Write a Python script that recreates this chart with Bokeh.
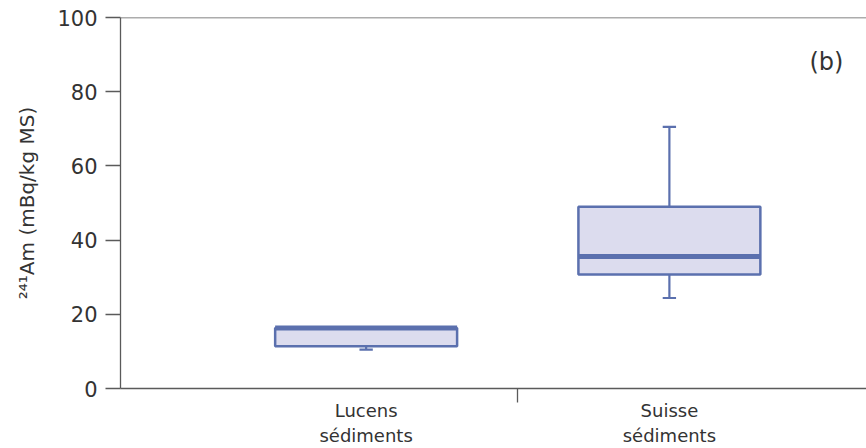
from bokeh.plotting import figure
from bokeh.models import Range1d, FixedTicker, Span, Label
from bokeh.embed import file_html
from bokeh.resources import INLINE

# Data
categories = ["Lucens\nsédiments", "Suisse\nsédiments"]
positions = [1, 2]
lower = [10.5, 24.4]
q1 = [11.4, 30.7]
median = [16.3, 35.6]
q3 = [16.3, 49.0]
upper = [16.3, 70.5]
y_ticks = [0, 20, 40, 60, 80, 100]

box_w = 0.6
cap_w = 0.044
FONT = "DejaVu Sans"
EDGE = "#5b70ae"
FILL = "#dcdcee"
AXIS = "#5a5a5a"
TEXT = "#333333"

p = figure(width=866, height=448, output_backend="svg", toolbar_location=None,
           x_range=Range1d(0.19, 2.65), y_range=Range1d(0, 100),
           min_border_left=120, min_border_right=0, min_border_top=17, min_border_bottom=58)
p.outline_line_color = None
p.xgrid.visible = False
p.ygrid.visible = False
p.background_fill_color = "white"
p.border_fill_color = "white"

# boxes
p.vbar(x=positions, bottom=q1, top=q3, width=box_w, fill_color=FILL,
       line_color=EDGE, line_width=2.5)
# whiskers
p.segment(x0=positions, y0=q3, x1=positions, y1=upper, line_color=EDGE, line_width=2.2)
p.segment(x0=positions, y0=lower, x1=positions, y1=q1, line_color=EDGE, line_width=2.2)
# caps
p.segment(x0=[x - cap_w / 2 for x in positions], y0=upper,
          x1=[x + cap_w / 2 for x in positions], y1=upper, line_color=EDGE, line_width=2.2)
p.segment(x0=[x - cap_w / 2 for x in positions], y0=lower,
          x1=[x + cap_w / 2 for x in positions], y1=lower, line_color=EDGE, line_width=2.2)
# medians
p.segment(x0=[x - box_w / 2 for x in positions], y0=median,
          x1=[x + box_w / 2 for x in positions], y1=median, line_color=EDGE, line_width=5)

# y axis
p.yaxis.ticker = FixedTicker(ticks=y_ticks)
p.yaxis.major_tick_out = 15
p.yaxis.major_tick_in = 0
p.yaxis.minor_tick_line_color = None
p.yaxis.axis_line_color = AXIS
p.yaxis.axis_line_width = 1.3
p.yaxis.major_tick_line_color = AXIS
p.yaxis.major_tick_line_width = 1.3
p.yaxis.major_label_text_font = FONT
p.yaxis.major_label_text_font_size = "21px"
p.yaxis.major_label_text_color = TEXT
p.yaxis.major_label_standoff = 8
p.yaxis.axis_label = "²⁴¹Am (mBq/kg MS)"
p.yaxis.axis_label_text_font = FONT
p.yaxis.axis_label_text_font_size = "20px"
p.yaxis.axis_label_text_font_style = "normal"
p.yaxis.axis_label_text_color = TEXT
p.yaxis.axis_label_standoff = 15

# x axis
p.xaxis.ticker = FixedTicker(ticks=positions, minor_ticks=[1.5])
p.xaxis.major_label_overrides = {pos: cat for pos, cat in zip(positions, categories)}
p.xaxis.major_tick_line_color = None
p.xaxis.major_tick_out = 0
p.xaxis.major_tick_in = 0
p.xaxis.minor_tick_line_color = AXIS
p.xaxis.minor_tick_line_width = 1.3
p.xaxis.minor_tick_out = 14
p.xaxis.minor_tick_in = 0
p.xaxis.axis_line_color = AXIS
p.xaxis.axis_line_width = 1.3
p.xaxis.major_label_text_font = FONT
p.xaxis.major_label_text_font_size = "18px"
p.xaxis.major_label_text_color = TEXT
p.xaxis.major_label_standoff = -3

# top border line
p.add_layout(Span(location=100, dimension="width", line_color=AXIS, line_width=1.3))

# panel label
p.add_layout(Label(x=2.518, y=88, text="(b)", text_font=FONT, text_font_size="24px",
                   text_color=TEXT, text_align="center", text_baseline="middle"))

open("out.html", "w").write(file_html(p, INLINE))
